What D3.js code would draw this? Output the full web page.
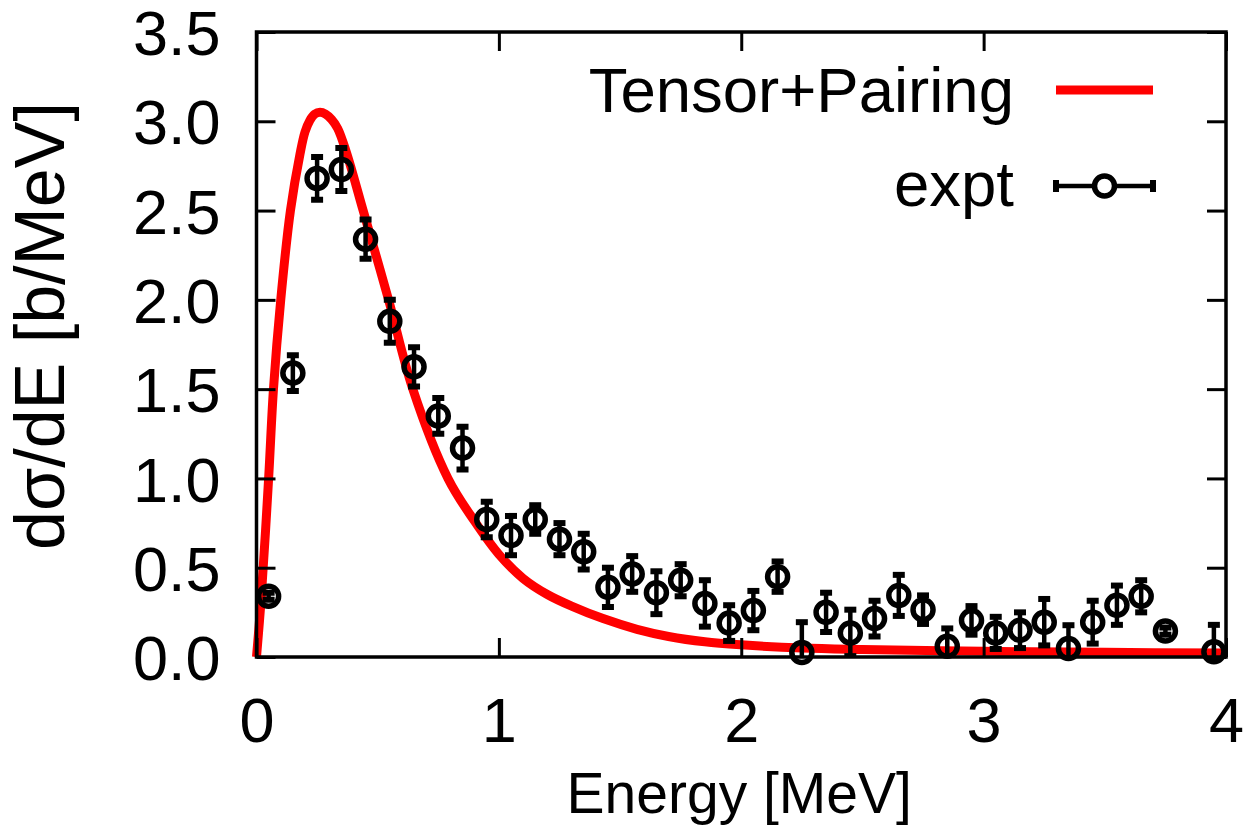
<!DOCTYPE html>
<html>
<head>
<meta charset="utf-8">
<script src="https://cdn.jsdelivr.net/npm/d3@7"></script>
<style>
  html, body { margin: 0; padding: 0; background: #fff; }
  svg { display: block; }
  text { font-family: "Liberation Sans", Arial, Helvetica, sans-serif; fill: #000; }
</style>
</head>
<body>
<svg id="chart" width="1245" height="828"></svg>
<script>
// Measured spectrum: bin centre energy (MeV), dσ/dE (b/MeV) and its uncertainty
const exptEnergy = [0.05, 0.15, 0.25, 0.35, 0.45, 0.55, 0.65, 0.75, 0.85, 0.95,
                    1.05, 1.15, 1.25, 1.35, 1.45, 1.55, 1.65, 1.75, 1.85, 1.95,
                    2.05, 2.15, 2.25, 2.35, 2.45, 2.55, 2.65, 2.75, 2.85, 2.95,
                    3.05, 3.15, 3.25, 3.35, 3.45, 3.55, 3.65, 3.75, 3.95];
const exptValue  = [0.34, 1.59, 2.68, 2.73, 2.34, 1.88, 1.625, 1.35, 1.17, 0.77,
                    0.68, 0.77, 0.66, 0.59, 0.39, 0.465, 0.36, 0.43, 0.30, 0.19,
                    0.26, 0.45, 0.025, 0.25, 0.135, 0.215, 0.345, 0.265, 0.06, 0.205,
                    0.135, 0.15, 0.195, 0.048, 0.195, 0.29, 0.34, 0.145, 0.03];
const exptError  = [0.02, 0.10, 0.12, 0.12, 0.11, 0.12, 0.11, 0.10, 0.12, 0.10,
                    0.11, 0.08, 0.09, 0.10, 0.11, 0.10, 0.12, 0.09, 0.13, 0.10,
                    0.11, 0.085, 0.17, 0.11, 0.13, 0.10, 0.115, 0.08, 0.10, 0.08,
                    0.09, 0.10, 0.13, 0.13, 0.12, 0.11, 0.09, 0.02, 0.15];

// Calculated strength (tensor + pairing)
const theoryEnergy = [0.0, 0.02, 0.05, 0.07, 0.10, 0.14, 0.18, 0.20, 0.22, 0.24,
                      0.262, 0.285, 0.31, 0.335, 0.37, 0.44, 0.545, 0.645, 0.79, 0.90,
                      1.00, 1.10, 1.20, 1.30, 1.43, 1.57, 1.70, 1.85, 2.00, 2.25,
                      2.50, 3.00, 3.50, 4.00];
const theoryValue  = [0.0, 0.34, 1.00, 1.50, 2.00, 2.50, 2.82, 2.94, 3.005, 3.04,
                      3.05, 3.04, 3.01, 2.96, 2.83, 2.50, 2.00, 1.50, 1.00, 0.76,
                      0.575, 0.44, 0.35, 0.285, 0.215, 0.155, 0.115, 0.085, 0.068, 0.05,
                      0.042, 0.032, 0.026, 0.022];

const xTicks = [0, 1, 2, 3, 4];
const yTicks = [0, 0.5, 1.0, 1.5, 2.0, 2.5, 3.0, 3.5];
const seriesLabels = ["Tensor+Pairing", "expt"];
const xTitle = "Energy [MeV]";
const yTitle = "dσ/dE [b/MeV]";

(function draw() {
  const svg = d3.select("#chart");
  const plotLeft = 256.5, plotRight = 1226, plotTop = 32, plotBottom = 657;

  const x = d3.scaleLinear().domain([0, 4]).range([plotLeft, plotRight]);
  const y = d3.scaleLinear().domain([0, 3.5]).range([plotBottom, plotTop]);

  svg.append("rect").attr("width", 1245).attr("height", 828).attr("fill", "#fff");

  svg.append("defs").append("clipPath").attr("id", "plotClip")
    .append("rect").attr("x", plotLeft).attr("y", plotTop)
    .attr("width", plotRight - plotLeft).attr("height", plotBottom - plotTop);

  // Theory curve
  const theory = theoryEnergy.map((e, i) => ({ e, v: theoryValue[i] }));
  const line = d3.line().x(d => x(d.e)).y(d => y(d.v)).curve(d3.curveCatmullRom.alpha(0.5));
  svg.append("path").datum(theory)
    .attr("d", line)
    .attr("fill", "none")
    .attr("stroke", "#ff0000")
    .attr("stroke-width", 9)
    .attr("stroke-linejoin", "round");

  // Experimental points with error bars
  const expt = exptEnergy.map((e, i) => ({ e, v: exptValue[i], err: exptError[i] }));
  const capHalf = 6;
  const bars = svg.append("g").attr("clip-path", "url(#plotClip)");
  bars.selectAll("line.bar").data(expt).join("line")
    .attr("class", "bar")
    .attr("x1", d => x(d.e)).attr("x2", d => x(d.e))
    .attr("y1", d => y(d.v - d.err)).attr("y2", d => y(d.v + d.err))
    .attr("stroke", "#000").attr("stroke-width", 4.5);
  bars.selectAll("line.capTop").data(expt).join("line")
    .attr("class", "capTop")
    .attr("x1", d => x(d.e) - capHalf).attr("x2", d => x(d.e) + capHalf)
    .attr("y1", d => y(d.v + d.err)).attr("y2", d => y(d.v + d.err))
    .attr("stroke", "#000").attr("stroke-width", 6);
  bars.selectAll("line.capBot").data(expt).join("line")
    .attr("class", "capBot")
    .attr("x1", d => x(d.e) - capHalf).attr("x2", d => x(d.e) + capHalf)
    .attr("y1", d => y(d.v - d.err)).attr("y2", d => y(d.v - d.err))
    .attr("stroke", "#000").attr("stroke-width", 6);
  svg.append("g").selectAll("circle").data(expt).join("circle")
    .attr("cx", d => x(d.e)).attr("cy", d => y(d.v)).attr("r", 10)
    .attr("fill", "none").attr("stroke", "#000").attr("stroke-width", 5.5);

  // Axes: inward ticks on all four sides
  const tickLen = 19;
  const styleAxis = g => {
    g.select(".domain").remove();
    g.selectAll(".tick line").attr("stroke", "#000").attr("stroke-width", 3);
  };
  const fontFamily = '"Liberation Sans", Arial, sans-serif';
  svg.append("g").attr("transform", `translate(0,${plotBottom})`)
    .call(d3.axisBottom(x).tickValues(xTicks).tickSizeInner(-tickLen).tickSizeOuter(0)
          .tickPadding(40).tickFormat(d3.format("d")))
    .call(styleAxis)
    .call(g => g.selectAll(".tick text").attr("font-size", 63)
          .style("font-family", fontFamily).attr("fill", "#000"));
  svg.append("g").attr("transform", `translate(${plotLeft},0)`)
    .call(d3.axisLeft(y).tickValues(yTicks).tickSizeInner(-tickLen).tickSizeOuter(0)
          .tickPadding(36).tickFormat(d3.format(".1f")))
    .call(styleAxis)
    .call(g => g.selectAll(".tick text").attr("font-size", 63).attr("dy", "0.36em")
          .style("font-family", fontFamily).attr("fill", "#000"));
  svg.append("g").attr("transform", `translate(0,${plotTop})`)
    .call(d3.axisTop(x).tickValues(xTicks).tickSizeInner(-tickLen).tickSizeOuter(0).tickFormat(""))
    .call(styleAxis);
  svg.append("g").attr("transform", `translate(${plotRight},0)`)
    .call(d3.axisRight(y).tickValues(yTicks).tickSizeInner(-tickLen).tickSizeOuter(0).tickFormat(""))
    .call(styleAxis);

  // Plot border
  svg.append("rect")
    .attr("x", plotLeft).attr("y", plotTop)
    .attr("width", plotRight - plotLeft).attr("height", plotBottom - plotTop)
    .attr("fill", "none").attr("stroke", "#000").attr("stroke-width", 3.5);

  // Axis titles
  svg.append("text")
    .attr("x", (plotLeft + plotRight) / 2 - 2).attr("y", 813)
    .attr("text-anchor", "middle").attr("font-size", 57)
    .text(xTitle);
  svg.append("text")
    .attr("transform", "translate(64,326) rotate(-90)")
    .attr("text-anchor", "middle").attr("font-size", 70)
    .text(yTitle);

  // Legend
  const legX1 = 1056, legX2 = 1153, legTextX = 1014;
  const legY = [90, 186];
  svg.append("text").attr("x", legTextX).attr("y", legY[0] + 22)
    .attr("text-anchor", "end").attr("font-size", 63.5).text(seriesLabels[0]);
  svg.append("line")
    .attr("x1", legX1).attr("x2", legX2).attr("y1", legY[0]).attr("y2", legY[0])
    .attr("stroke", "#ff0000").attr("stroke-width", 9);

  svg.append("text").attr("x", legTextX).attr("y", legY[1] + 20)
    .attr("text-anchor", "end").attr("font-size", 63.5).text(seriesLabels[1]);
  const lg = svg.append("g");
  lg.append("line")
    .attr("x1", legX1).attr("x2", legX2).attr("y1", legY[1]).attr("y2", legY[1])
    .attr("stroke", "#000").attr("stroke-width", 4.5);
  [legX1, legX2].forEach(cx => {
    lg.append("line")
      .attr("x1", cx).attr("x2", cx).attr("y1", legY[1] - 6).attr("y2", legY[1] + 6)
      .attr("stroke", "#000").attr("stroke-width", 6);
  });
  lg.append("circle")
    .attr("cx", (legX1 + legX2) / 2).attr("cy", legY[1]).attr("r", 10)
    .attr("fill", "#fff").attr("stroke", "#000").attr("stroke-width", 5.5);
})();
</script>
</body>
</html>
